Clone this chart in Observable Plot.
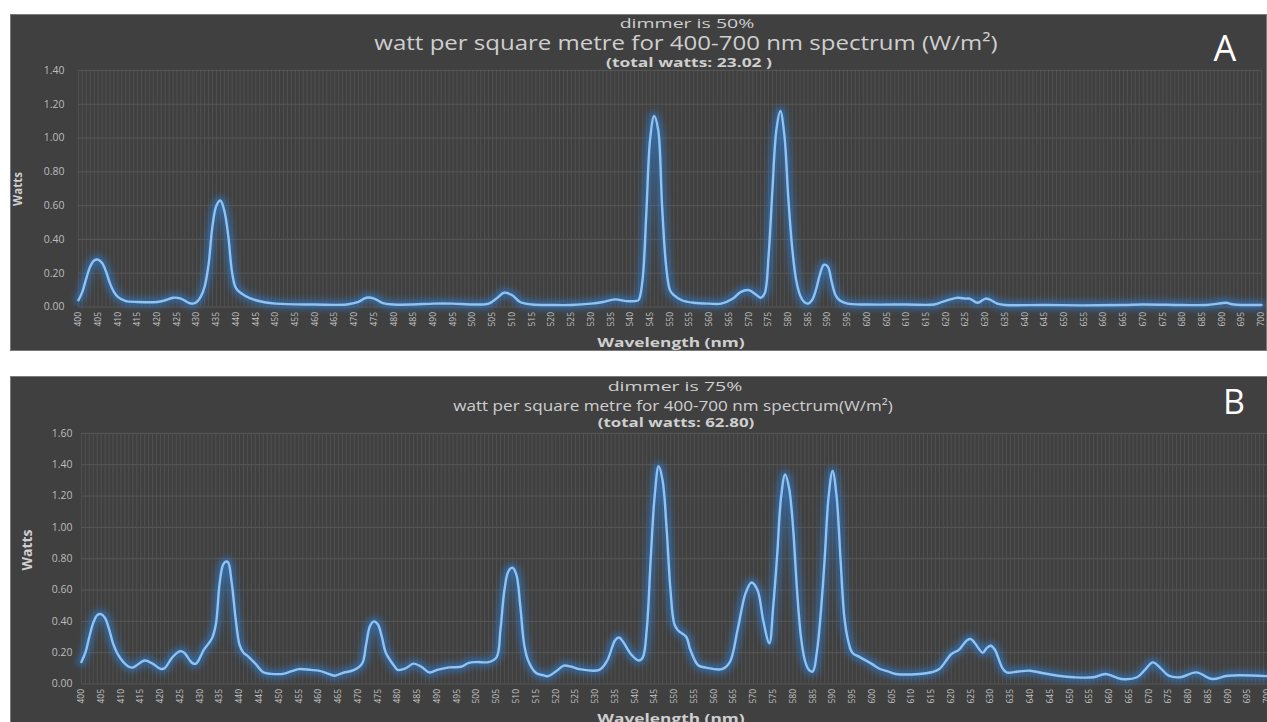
<!DOCTYPE html>
<html>
<head>
<meta charset="utf-8">
<script src="https://cdn.jsdelivr.net/npm/d3@7"></script>
<script src="https://cdn.jsdelivr.net/npm/@observablehq/plot@0.6"></script>
<style>
  html, body { margin: 0; padding: 0; background: #ffffff; }
  body { width: 1267px; height: 722px; overflow: hidden; position: relative; font-family: "Open Sans", "Noto Sans", sans-serif; }
  .panel { position: absolute; background: #404040; border: 1px solid #7a7a7a; box-sizing: border-box; overflow: hidden; }
  .t { position: absolute; white-space: nowrap; transform: translate(-50%, -50%); color: #cfcfcf; line-height: 1; }
  .panel svg { position: absolute; left: 0; top: 0; }
</style>
</head>
<body>
<script>
// ---------- Data ----------
// Panel A: dimmer 50%
const wlA = [400,401,402,403,404,405,406,407,408,409,410,412,415,420,422,424,426,428,429,430,431,432,433,434,435,436,437,438,439,440,442,445,450,460,468,471,473,475,477,480,485,490,495,500,504,506,508,510,512,515,520,525,530,533,536,539,541,542,543,544,545,546,547,548,549,550,551,553,556,560,563,566,568,570,572,573,574,575,576,577,578,579,580,581,582,583,584,585,586,587,588,589,590,591,592,593,595,600,610,617,619,621,623,625,626,628,630,631,633,635,645,655,665,670,680,686,689,691,693,700];
const wattsA = [0.04,0.09,0.17,0.24,0.275,0.28,0.26,0.21,0.14,0.09,0.06,0.035,0.03,0.03,0.04,0.055,0.05,0.025,0.02,0.03,0.06,0.12,0.25,0.48,0.6,0.63,0.57,0.42,0.2,0.11,0.07,0.04,0.02,0.015,0.015,0.03,0.055,0.05,0.025,0.015,0.015,0.02,0.02,0.015,0.02,0.05,0.085,0.07,0.03,0.015,0.012,0.012,0.02,0.03,0.045,0.035,0.035,0.04,0.15,0.55,1.0,1.13,1.05,0.6,0.25,0.1,0.07,0.04,0.025,0.02,0.02,0.05,0.09,0.1,0.07,0.055,0.08,0.3,0.7,1.05,1.16,1.02,0.65,0.35,0.16,0.07,0.03,0.02,0.04,0.1,0.19,0.25,0.24,0.15,0.07,0.04,0.02,0.015,0.015,0.015,0.03,0.045,0.055,0.05,0.05,0.025,0.05,0.045,0.02,0.012,0.012,0.01,0.012,0.015,0.012,0.012,0.02,0.025,0.015,0.012];

// Panel B: dimmer 75%
const wlB = [400,401,402,403,404,405,406,407,408,409,410,411,412,413,414,416,418,420,421,423,425,426,428,429,431,433,434,435,436,437,438,439,440,441,442,444,446,448,451,453,455,458,460,462,464,466,469,471,472,473,474,475,476,477,479,480,482,484,486,488,490,493,496,498,500,503,505,506,507,508,509,510,511,512,513,515,517,518,520,522,524,526,531,533,535,536,537,539,541,542,543,544,545,546,547,548,549,550,551,553,554,556,558,562,564,566,568,569.5,571,572.5,574,575,576,577,578,579,580,581,582,583,584,585,586,587,588,589,590,591,592,593,594,595,597,600,602,604,606,612,615,617,620,622,624,625,626,628,629,630,631,633,634,637,640,643,647,651,656,659,663,667,669,671,673,675,678,682,686,690,700];
const wattsB = [0.14,0.2,0.3,0.39,0.44,0.446,0.42,0.35,0.26,0.2,0.16,0.13,0.11,0.105,0.12,0.15,0.13,0.097,0.1,0.17,0.21,0.2,0.135,0.13,0.22,0.29,0.38,0.65,0.77,0.78,0.65,0.42,0.25,0.2,0.18,0.13,0.075,0.065,0.065,0.08,0.095,0.09,0.085,0.07,0.053,0.07,0.09,0.13,0.25,0.37,0.4,0.38,0.3,0.2,0.12,0.09,0.1,0.13,0.11,0.074,0.09,0.106,0.11,0.135,0.14,0.14,0.17,0.35,0.6,0.72,0.743,0.7,0.5,0.25,0.15,0.07,0.055,0.05,0.08,0.117,0.11,0.095,0.09,0.15,0.28,0.297,0.27,0.19,0.15,0.17,0.35,0.8,1.2,1.39,1.3,1.0,0.6,0.38,0.34,0.3,0.22,0.12,0.105,0.095,0.14,0.35,0.58,0.648,0.6,0.4,0.26,0.5,0.83,1.2,1.338,1.25,1.0,0.6,0.3,0.15,0.09,0.08,0.2,0.45,0.8,1.2,1.36,1.2,0.8,0.42,0.27,0.2,0.17,0.127,0.096,0.08,0.064,0.064,0.075,0.096,0.19,0.22,0.28,0.287,0.26,0.2,0.23,0.244,0.22,0.1,0.074,0.08,0.085,0.07,0.053,0.043,0.043,0.064,0.032,0.043,0.09,0.138,0.1,0.053,0.043,0.074,0.032,0.053,0.05];

// Axis ticks
const xTickLabels = d3.range(400, 701, 5);
const xGridNm = d3.range(400, 701, 1);
const yTicksA = [0, 0.2, 0.4, 0.6, 0.8, 1.0, 1.2, 1.4];
const yTicksB = [0, 0.2, 0.4, 0.6, 0.8, 1.0, 1.2, 1.4, 1.6];

const FONT = "'Open Sans', 'Noto Sans', sans-serif";

function makePanel(opts) {
  const data = opts.wl.map((w, i) => ({wl: w, watts: opts.watts[i]}));
  const svg = Plot.plot({
    width: opts.width, height: opts.height,
    marginLeft: opts.ml, marginRight: opts.mr, marginTop: opts.mt, marginBottom: opts.mb,
    style: {background: "transparent", color: "#bfbfbf", fontFamily: FONT, overflow: "visible"},
    x: {domain: [400, 700]},
    y: {domain: [0, opts.yTicks[opts.yTicks.length - 1]]},
    marks: [
      Plot.ruleX(xGridNm, {stroke: "#5c5c5c", strokeWidth: 0.7, strokeOpacity: 0.85}),
      Plot.ruleY(opts.yTicks, {stroke: "#575757", strokeWidth: 1}),
      Plot.axisY({ticks: opts.yTicks, tickFormat: d => d.toFixed(2), tickSize: 0, tickPadding: opts.ytp, fontSize: 10.5, label: null, fill: "#bdbdbd"}),
      Plot.axisX({ticks: xTickLabels, tickFormat: d => String(d), tickRotate: -90, tickSize: 0, tickPadding: 5, fontSize: 8.5, label: null, fill: "#c4c4c4"}),
      Plot.line(data, {x: "wl", y: "watts", curve: "catmull-rom", stroke: "#2f7fd6", strokeWidth: 9, strokeOpacity: 0.6}),
      Plot.line(data, {x: "wl", y: "watts", curve: "catmull-rom", stroke: "#8fc3f3", strokeWidth: 2.4})
    ]
  });
  const lines = svg.querySelectorAll('g[aria-label="line"]');
  if (lines.length) lines[0].style.filter = "blur(3px)";
  return svg;
}

function addPanel(box, svgOpts, texts) {
  const div = document.createElement("div");
  div.className = "panel";
  Object.assign(div.style, {left: box.x + "px", top: box.y + "px", width: box.w + "px", height: box.h + "px"});
  div.appendChild(makePanel(svgOpts));
  document.body.appendChild(div);
  for (const t of texts) {
    const el = document.createElement("div");
    el.className = "t";
    el.textContent = t.text;
    el.style.left = t.x + "px";
    el.style.top = t.y + "px";
    el.style.fontSize = t.size + "px";
    if (t.bold) el.style.fontWeight = "bold";
    if (t.color) el.style.color = t.color;
    const sx = t.sx || 1;
    el.style.transform = t.rotate
      ? "translate(-50%, -50%) rotate(-90deg)"
      : `translate(-50%, -50%) scaleX(${sx})`;
    document.body.appendChild(el);
  }
}

// Panel A
addPanel({x: 10, y: 14, w: 1257, h: 337},
  {wl: wlA, watts: wattsA, width: 1257, height: 337, ml: 67, mr: 5, mt: 55, mb: 45, ytp: 14, yTicks: yTicksA},
  [
    {text: "dimmer is 50%", x: 687, y: 23, size: 13, sx: 1.5},
    {text: "watt per square metre for 400-700 nm spectrum (W/m²)", x: 686, y: 43, size: 20, sx: 1.2},
    {text: "(total watts:  23.02 )", x: 689, y: 63, size: 12, bold: true, sx: 1.45},
    {text: "Wavelength  (nm)", x: 671, y: 342, size: 13, bold: true, sx: 1.33},
    {text: "Watts", x: 18, y: 189, size: 11.5, bold: true, rotate: true},
    {text: "A", x: 1225, y: 48, size: 36, color: "#ffffff"}
  ]);

// Panel B
addPanel({x: 10, y: 376, w: 1260, h: 360},
  {wl: wlB, watts: wattsB, width: 1260, height: 360, ml: 70, mr: 2, mt: 56, mb: 53, ytp: 9, yTicks: yTicksB},
  [
    {text: "dimmer is 75%", x: 675, y: 386, size: 13, sx: 1.5},
    {text: "watt per square metre for 400-700 nm spectrum(W/m²)", x: 673, y: 405, size: 15, sx: 1.14},
    {text: "(total watts: 62.80)", x: 676, y: 423, size: 12.5, bold: true, sx: 1.35},
    {text: "Wavelength  (nm)", x: 671, y: 718, size: 13, bold: true, sx: 1.33},
    {text: "Watts", x: 27, y: 550, size: 14, bold: true, rotate: true},
    {text: "B", x: 1234, y: 401, size: 34, color: "#ffffff"}
  ]);
</script>
</body>
</html>
